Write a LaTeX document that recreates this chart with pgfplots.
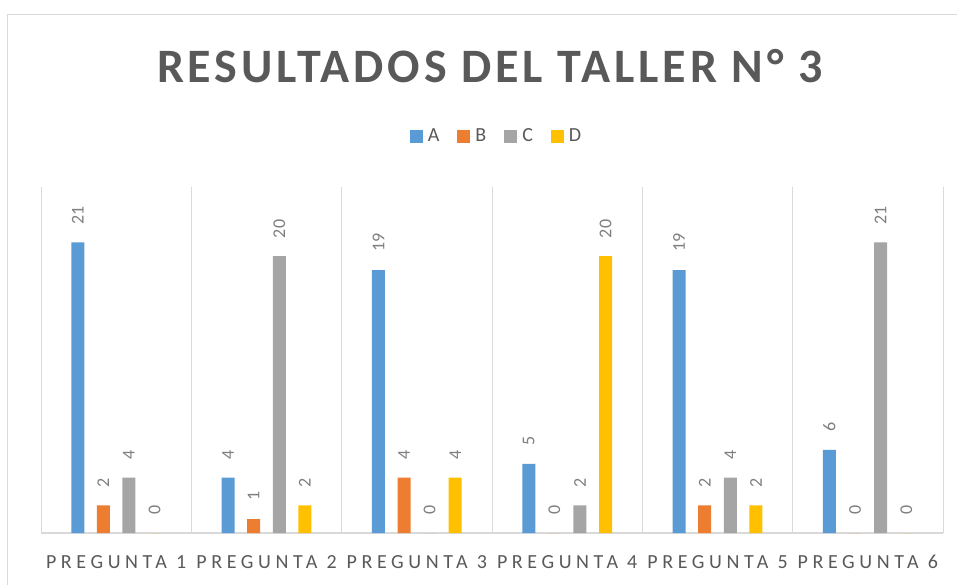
\documentclass[border=0pt]{standalone}
\usepackage{pgfplots}
\pgfplotsset{compat=1.18}
\usepackage{fontspec}
\setmainfont{Carlito}
\newfontfamily\titlefont[LetterSpace=8]{Carlito}
\newfontfamily\catfont[LetterSpace=23]{Carlito}
\definecolor{cA}{HTML}{5B9BD5}
\definecolor{cB}{HTML}{ED7D31}
\definecolor{cC}{HTML}{A5A5A5}
\definecolor{cD}{HTML}{FFC000}
\definecolor{txt}{HTML}{595959}
\definecolor{lbl}{HTML}{7F7F7F}
\definecolor{grid}{HTML}{D9D9D9}
\begin{document}
\begin{tikzpicture}
\begin{scope}
\clip (0pt,0pt) rectangle (957pt,584pt);
\draw[grid, line width=1pt] (7pt,-30pt) rectangle (990pt,569pt);
\end{scope}
\node[text=txt, font={\titlefont\bfseries\fontsize{48}{56}\selectfont}] at (490pt,518pt) {RESULTADOS DEL TALLER N° 3};
\begin{axis}[
  at={(41pt,51pt)}, anchor=south west,
  scale only axis, width=902pt, height=346pt,
  ybar=12.6pt, bar width=13pt,
  xmin=-0.5, xmax=5.5, ymin=0, ymax=25,
  xtick={0,1,2,3,4,5},
  xticklabels={PREGUNTA 1,PREGUNTA 2,PREGUNTA 3,PREGUNTA 4,PREGUNTA 5,PREGUNTA 6},
  minor xtick={-0.5,0.5,1.5,2.5,3.5,4.5,5.5},
  xminorgrids=true,
  minor grid style={draw=grid, line width=1pt},
  major tick length=0pt, minor tick length=0pt,
  axis x line*=bottom, axis y line=none,
  x axis line style={draw=grid, line width=1.5pt, -},
  xticklabel style={text=txt, font={\catfont\fontsize{20}{24}\selectfont}, inner sep=0pt, yshift=-22pt},
  /pgf/number format/assume math mode=true,
  nodes near coords,
  every node near coord/.append style={rotate=90, anchor=west, text=lbl, font={\fontsize{18}{20}\selectfont}, inner xsep=18pt, inner ysep=0pt},
  clip=false,
  legend columns=4,
  legend style={at={(0.505,1.147)}, anchor=center, draw=none, fill=none, text=txt, font={\fontsize{20}{24}\selectfont},
    /tikz/every even column/.append style={column sep=16pt}},
  legend image code/.code={\fill[#1, draw=none] (0pt,-6.5pt) rectangle (13pt,6.5pt); \path (13pt,0pt) -- (16pt,0pt);},
]
\addplot[fill=cA, draw=none] coordinates {(0,21) (1,4) (2,19) (3,5) (4,19) (5,6)};
\addplot[fill=cB, draw=none] coordinates {(0,2) (1,1) (2,4) (3,0) (4,2) (5,0)};
\addplot[fill=cC, draw=none] coordinates {(0,4) (1,20) (2,0) (3,2) (4,4) (5,21)};
\addplot[fill=cD, draw=none] coordinates {(0,0) (1,2) (2,4) (3,20) (4,2) (5,0)};
\legend{A,B,C,D}
\end{axis}
\pgfresetboundingbox
\useasboundingbox (0pt,0pt) rectangle (957pt,584pt);
\end{tikzpicture}
\end{document}
